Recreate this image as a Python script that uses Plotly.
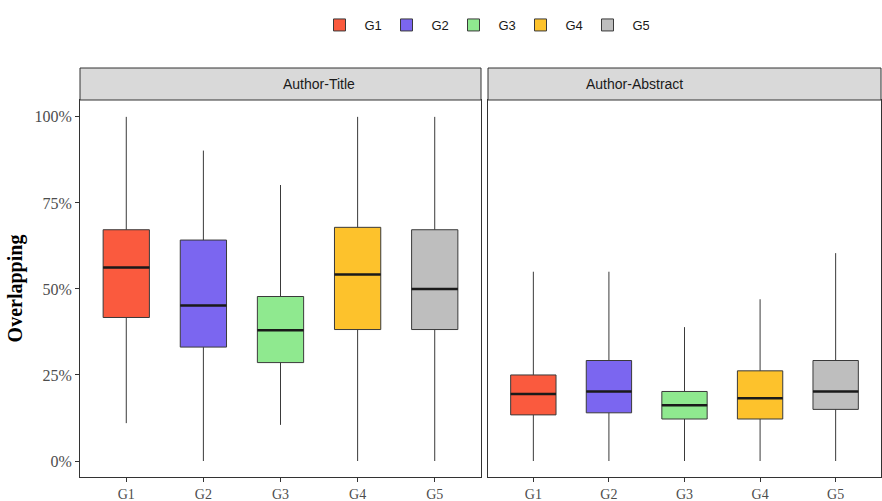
import plotly.graph_objects as go

groups = ["G1", "G2", "G3", "G4", "G5"]
panels = ["Author-Title", "Author-Abstract"]
colors = ["#FA5A3E", "#7B66F0", "#8FE98F", "#FDC22C", "#BEBEBE"]
y_ticks = [0, 25, 50, 75, 100]
y_ticklabels = ["0%", "25%", "50%", "75%", "100%"]

# Author-Title stats (%)
at_low = [11, 0, 10.5, 0, 0]
at_q1 = [41.7, 33.1, 28.6, 38.2, 38.2]
at_med = [56.2, 45.2, 38.0, 54.2, 50.0]
at_q3 = [67.2, 64.2, 47.8, 67.9, 67.2]
at_high = [100, 90.2, 80.2, 100, 100]

# Author-Abstract stats (%)
aa_low = [0, 0, 0, 0, 0]
aa_q1 = [13.4, 14.0, 12.2, 12.2, 15.0]
aa_med = [19.5, 20.2, 16.2, 18.2, 20.2]
aa_q3 = [25.0, 29.2, 20.2, 26.2, 29.2]
aa_high = [55, 55, 38.9, 47, 60.4]

stats = [
    (at_low, at_q1, at_med, at_q3, at_high),
    (aa_low, aa_q1, aa_med, aa_q3, aa_high),
]

W, H = 882, 501
ML, MR, MT, MB = 80, 1, 68, 24
PW, PH = W - ML - MR, H - MT - MB
serif = "Liberation Serif, Times New Roman, serif"
sans = "Liberation Sans, Arial, sans-serif"

fig = go.Figure()
box_w = 0.6
for p, (lo, q1, med, q3, hi) in enumerate(stats):
    xa = "x" if p == 0 else "x2"
    ya = "y" if p == 0 else "y2"
    for i, g in enumerate(groups):
        fig.add_trace(go.Box(
            x=[i], q1=[q1[i]], median=[med[i]], q3=[q3[i]],
            lowerfence=[lo[i]], upperfence=[hi[i]],
            name=g, legendgroup=g, showlegend=(p == 0),
            fillcolor=colors[i], line=dict(color="#3a3a3a", width=1),
            whiskerwidth=0, width=box_w, boxpoints=False,
            xaxis=xa, yaxis=ya, hoverinfo="skip",
        ))
    mx, my = [], []
    for i in range(len(groups)):
        mx += [i - box_w / 2, i + box_w / 2, None]
        my += [med[i], med[i], None]
    fig.add_trace(go.Scatter(x=mx, y=my, mode="lines",
                             line=dict(color="#1a1a1a", width=2.5),
                             showlegend=False, hoverinfo="skip",
                             xaxis=xa, yaxis=ya))

x1 = [0, 401 / PW]
x2 = [408 / PW, 1]
ydom = [0, (477 - 100) / PH]
yr = [-4.65, 104.9]

axis_common = dict(
    showgrid=False, zeroline=False, showline=True, mirror=True,
    linecolor="#333333", linewidth=1, ticks="outside", ticklen=4,
    tickcolor="#333333", automargin=False,
)
tf = dict(family=serif, size=16, color="#4d4d4d")
tfx = dict(family=serif, size=14, color="#4d4d4d")
fig.update_layout(
    width=W, height=H,
    margin=dict(l=ML, r=MR, t=MT, b=MB),
    plot_bgcolor="white", paper_bgcolor="white",
    xaxis=dict(domain=x1, range=[-0.6, 4.6], tickvals=list(range(5)), ticktext=groups,
               tickfont=tfx, **axis_common),
    xaxis2=dict(domain=x2, range=[-0.6, 4.6], tickvals=list(range(5)), ticktext=groups,
                tickfont=tfx, anchor="y2", **axis_common),
    yaxis=dict(domain=ydom, range=yr, tickvals=y_ticks, ticktext=y_ticklabels,
               tickfont=tf,
               title=dict(text="<b>Overlapping</b>", font=dict(family=serif, size=20, color="black"), standoff=6),
               **axis_common),
    yaxis2=dict(domain=ydom, range=yr, tickvals=y_ticks, showticklabels=False,
                anchor="x2", **{**axis_common, "ticks": ""}),
    legend=dict(orientation="h", x=(482 - ML) / PW, xanchor="center", y=1 + (MT - 25) / PH, yanchor="middle",
                font=dict(family=sans, size=13, color="#1a1a1a"), itemwidth=40,
                entrywidth=12, entrywidthmode="pixels",
                traceorder="normal"),
    showlegend=True,
)

for dom, label in zip([x1, x2], panels):
    fig.add_shape(type="rect", xref="paper", yref="paper",
                  x0=dom[0], x1=dom[1], y0=ydom[1], y1=1,
                  fillcolor="#D9D9D9", line=dict(color="#333333", width=1))
    fig.add_annotation(xref="paper", yref="paper", x=(dom[0] + dom[1]) / 2,
                       y=(ydom[1] + 1) / 2, yanchor="middle", text=label, showarrow=False,
                       font=dict(family=sans, size=14, color="#1a1a1a"))

fig.write_html("out.html", post_script="document.body.style.margin='0';",
               config={"displayModeBar": False})
